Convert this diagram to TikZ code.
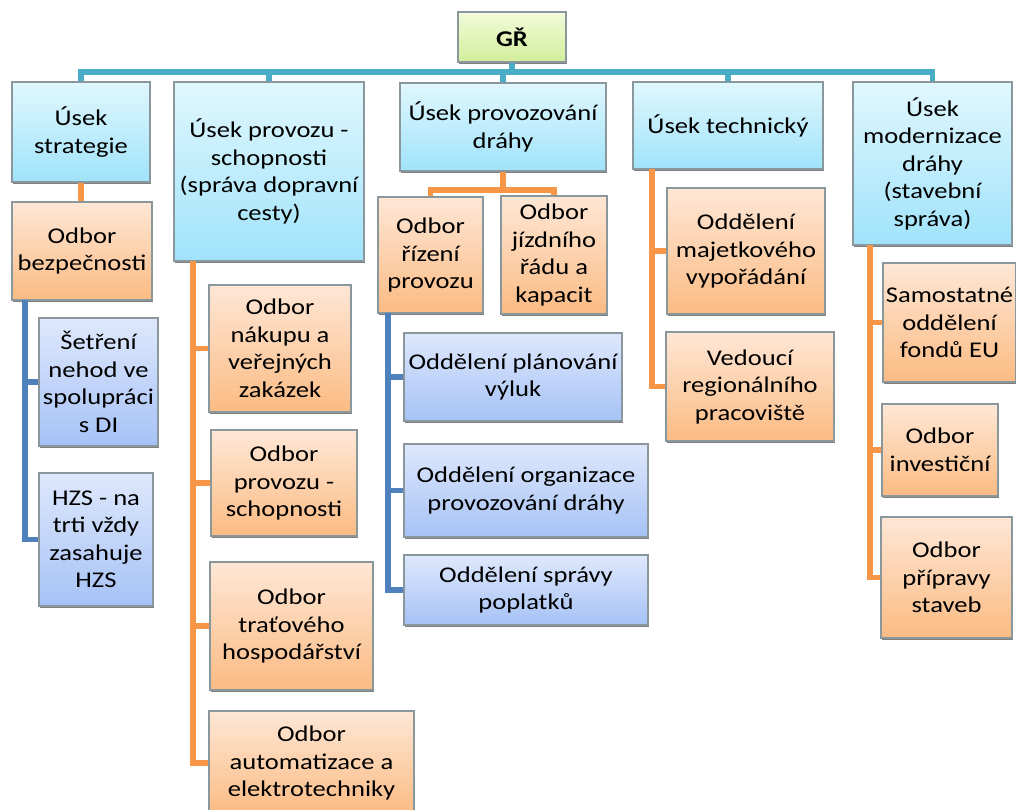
\documentclass[tikz,border=0pt]{standalone}
\usepackage{fontspec}
\setmainfont{Carlito}[FakeStretch=1.18]
\usepackage{tikz}
\usetikzlibrary{shadows}
\usepackage{xcolor}
\definecolor{usektop}{HTML}{E0F7FE}
\definecolor{usekbot}{HTML}{A0E3FA}
\definecolor{odbortop}{HTML}{FEE7D6}
\definecolor{odborbot}{HTML}{FBBB83}
\definecolor{oddeltop}{HTML}{DEE8FC}
\definecolor{oddelbot}{HTML}{A6C2F6}
\definecolor{grtop}{HTML}{F3FBDA}
\definecolor{grbot}{HTML}{D2EE9A}
\definecolor{boxline}{HTML}{8A979D}
\definecolor{tealline}{HTML}{4BACC6}
\definecolor{orline}{HTML}{F79646}
\definecolor{blline}{HTML}{4F81BD}
\newcommand{\boxfont}{\fontsize{22.5}{27.5}\selectfont}
\tikzset{
  box/.style={rectangle, align=center, inner sep=1pt, line width=1.1pt, draw=boxline, font=\boxfont,
    drop shadow={shadow xshift=1pt, shadow yshift=-1.6pt, fill=black, opacity=.5}},
  sz/.style 2 args={minimum width=#1pt, minimum height=#2pt},
  grbox/.style={box, top color=grtop, bottom color=grbot, font=\boxfont\bfseries},
  usek/.style={box, top color=usektop, bottom color=usekbot},
  odbor/.style={box, top color=odbortop, bottom color=odborbot},
  oddel/.style={box, top color=oddeltop, bottom color=oddelbot},
  tlink/.style={draw=tealline, line width=5.5pt},
  olink/.style={draw=orline, line width=5.5pt},
  blink/.style={draw=blline, line width=5.5pt}
}

\begin{document}
\begin{tikzpicture}[x=1pt, y=-1pt]
  \clip (0,0) rectangle (1016,809);
  % top
  \node[grbox, sz={108}{50}] (gr) at (512,37) {GŘ};
  % useky
  \node[usek, sz={138}{100}] (strat) at (81,132) {Úsek\\strategie};
  \node[usek, sz={190}{179}] (psch) at (269,171.5) {Úsek provozu -\\schopnosti\\(správa dopravní\\cesty)};
  \node[usek, sz={206}{88}] (provd) at (503,127) {Úsek provozování\\dráhy};
  \node[usek, sz={190}{87}] (tech) at (728,125.5) {Úsek technický};
  \node[usek, sz={159}{163}] (modr) at (932.5,163.5) {Úsek\\modernizace\\dráhy\\(stavební\\správa)};
  % strategie
  \node[odbor, sz={140}{98}] (bezp) at (82,251) {Odbor\\bezpečnosti};
  \node[oddel, sz={119}{128}] (setr) at (98.5,382) {Šetření\\nehod ve\\spolupráci\\s DI};
  \node[oddel, sz={114}{133}] (hzs) at (96,539.5) {HZS - na\\trti vždy\\zasahuje\\HZS};
  % provozu - schopnosti
  \node[odbor, sz={142}{127}] (nakup) at (280,348.5) {Odbor\\nákupu a\\veřejných\\zakázek};
  \node[odbor, sz={146}{106}] (opsch) at (284,483) {Odbor\\provozu -\\schopnosti};
  \node[odbor, sz={163}{128}] (trat) at (291.5,626) {Odbor\\traťového\\hospodářství};
  \node[odbor, sz={205}{104}] (autom) at (311.5,763) {Odbor\\automatizace a\\elektrotechniky};
  % provozovani drahy
  \node[odbor, sz={105}{116}] (rizeni) at (430.5,255) {Odbor\\řízení\\provozu};
  \node[odbor, sz={106}{118}] (jizd) at (554,255) {Odbor\\jízdního\\řádu a\\kapacit};
  \node[oddel, sz={218}{88}] (planv) at (513,377) {Oddělení plánování\\výluk};
  \node[oddel, sz={244}{93}] (organ) at (526,490.5) {Oddělení organizace\\provozování dráhy};
  \node[oddel, sz={244}{70}] (poplat) at (526,590) {Oddělení správy\\poplatků};
  % technicky
  \node[odbor, sz={158}{126}] (majet) at (746,251) {Oddělení\\majetkového\\vypořádání};
  \node[odbor, sz={168}{109}] (vedouci) at (750,386.5) {Vedoucí\\regionálního\\pracoviště};
  % modernizace
  \node[odbor, sz={133}{119}] (fondy) at (949.5,322.5) {Samostatné\\oddělení\\fondů EU};
  \node[odbor, sz={116}{92}] (invest) at (940,450) {Odbor\\investiční};
  \node[odbor, sz={131}{121}] (priprav) at (946.5,577.5) {Odbor\\přípravy\\staveb};

  % connectors
  \coordinate (bus) at (512,72);
  \foreach \n in {strat,psch,provd,tech,modr}
    \draw[tlink] (gr.south) |- (bus -| \n.north) -- (\n.north);
  \draw[olink] (strat.south) -- (strat.south |- bezp.north);
  \coordinate (bzsp) at (25,300);
  \draw[blink] (bzsp) |- (setr.west);
  \draw[blink] (bzsp) |- (hzs.west);
  \coordinate (pssp) at (193,261);
  \draw[olink] (pssp) |- (nakup.west);
  \draw[olink] (pssp) |- (opsch.west);
  \draw[olink] (pssp) |- (trat.west);
  \draw[olink] (pssp) |- (autom.west);
  \coordinate (pdj) at (503,190);
  \draw[olink] (provd.south) -- (pdj) -| (rizeni.north);
  \draw[olink] (pdj) -| (jizd.north);
  \coordinate (rzsp) at (388,313);
  \draw[blink] (rzsp) |- (planv.west);
  \draw[blink] (rzsp) |- (organ.west);
  \draw[blink] (rzsp) |- (poplat.west);
  \coordinate (tesp) at (652,169);
  \draw[olink] (tesp) |- (majet.west);
  \draw[olink] (tesp) |- (vedouci.west);
  \coordinate (mosp) at (870,245);
  \draw[olink] (mosp) |- (fondy.west);
  \draw[olink] (mosp) |- (invest.west);
  \draw[olink] (mosp) |- (priprav.west);
\end{tikzpicture}
\end{document}
